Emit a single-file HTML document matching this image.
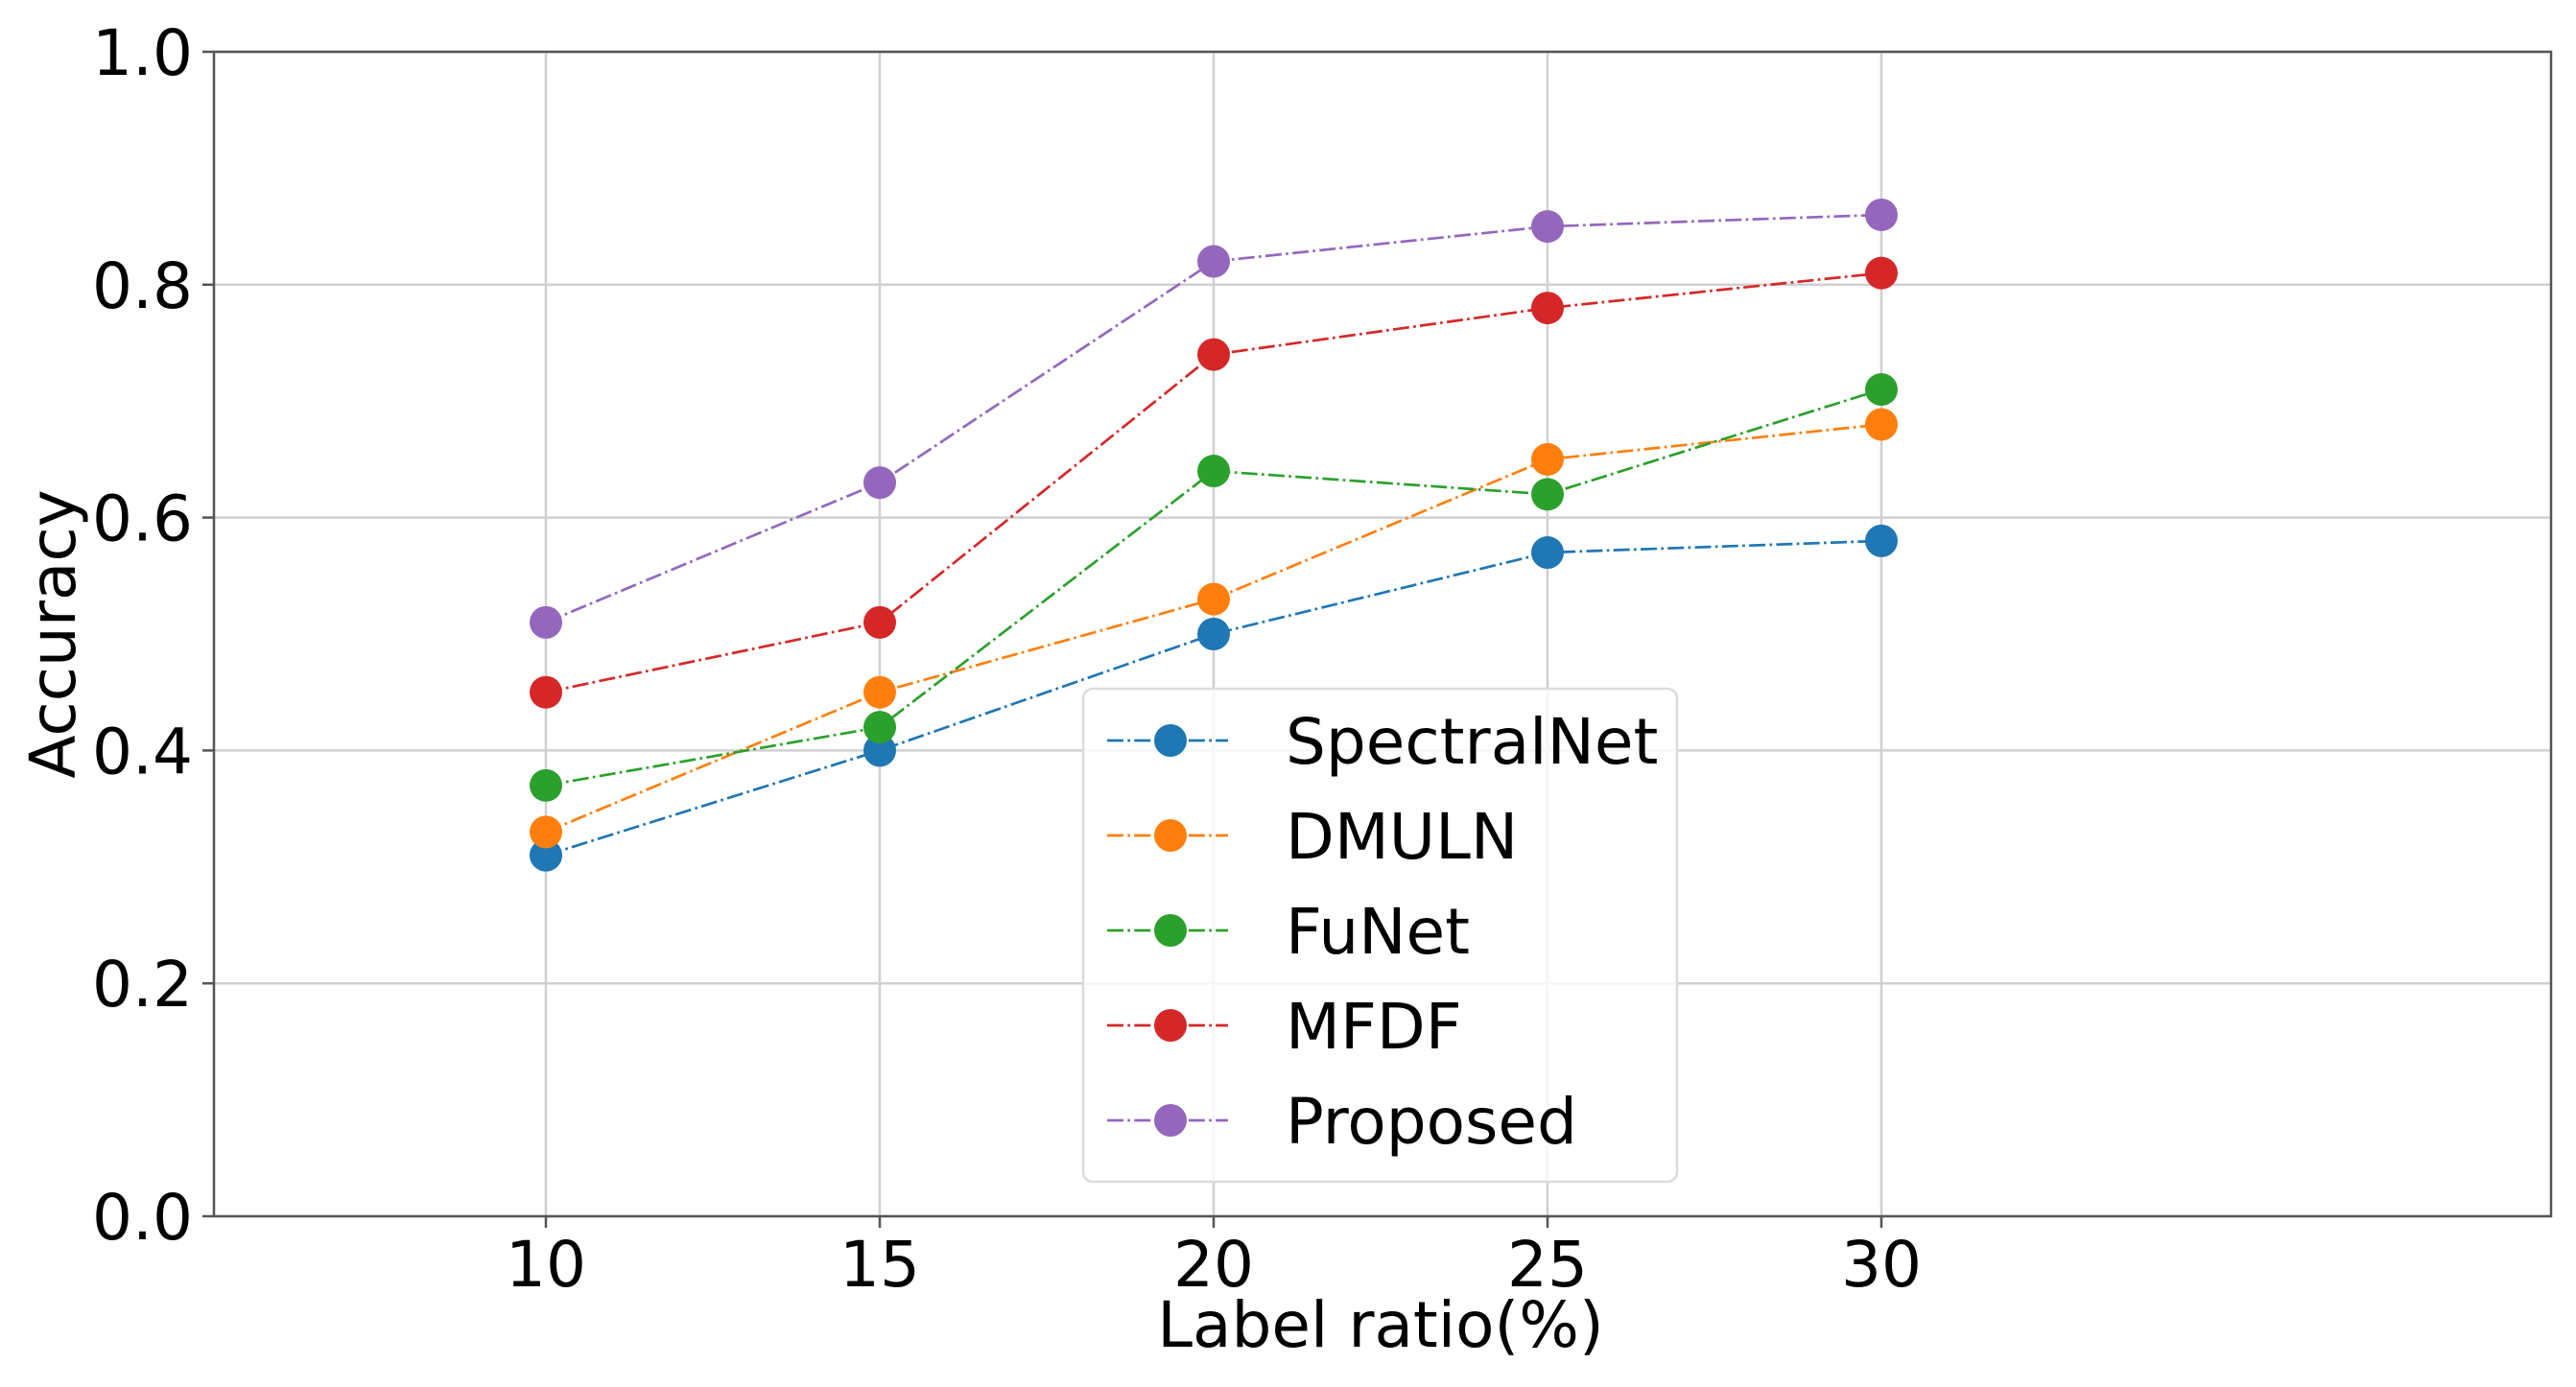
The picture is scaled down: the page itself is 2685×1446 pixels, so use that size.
<!DOCTYPE html>
<html><head><meta charset="utf-8"><style>
html,body{margin:0;padding:0;background:#fff}
svg text{font-family:"DejaVu Sans","Liberation Sans",sans-serif;fill:#000}
</style></head><body>
<svg id="chart" width="2685" height="1441" xmlns="http://www.w3.org/2000/svg">
<g id="grid"></g>
<g id="series"></g>
<rect x="223" y="54" width="2436" height="1214" fill="none" stroke="#555" stroke-width="2.5"/>
<g id="ticks"></g>
<text x="1439" y="1404" font-size="66" text-anchor="middle">Label ratio(%)</text>
<text x="0" y="0" font-size="66" text-anchor="middle" transform="translate(78,661) rotate(-90)">Accuracy</text>
<g id="legend"></g>
</svg>
<script>
const categories=[10,15,20,25,30];
const xTicks=[10,15,20,25,30];
const yTicks=[0.0,0.2,0.4,0.6,0.8,1.0];
const seriesNames=["SpectralNet","DMULN","FuNet","MFDF","Proposed"];
const seriesColors=["#1f77b4","#ff7f0e","#2ca02c","#d62728","#9467bd"];
const spectralNet=[0.31,0.40,0.50,0.57,0.58];
const dmuln=[0.33,0.45,0.53,0.65,0.68];
const funet=[0.37,0.42,0.64,0.62,0.71];
const mfdf=[0.45,0.51,0.74,0.78,0.81];
const proposed=[0.51,0.63,0.82,0.85,0.86];
const seriesValues=[spectralNet,dmuln,funet,mfdf,proposed];

const NS="http://www.w3.org/2000/svg";
const L=223,R=2659,T=54,B=1268;
function xs(v){return 569+(v-10)*(1961-569)/20;}
function ys(v){return B-(v-0)*(B-T)/1.0;}
function mk(tag,attrs,parent){const e=document.createElementNS(NS,tag);for(const k in attrs)e.setAttribute(k,attrs[k]);parent.appendChild(e);return e;}
const grid=document.getElementById('grid'),ticks=document.getElementById('ticks');
xTicks.forEach(v=>{
  const g=mk('line',{x1:xs(v),x2:xs(v),y1:T,y2:B,stroke:'#d0d0d0','stroke-width':2.5},grid);
  
  
  const t=mk('line',{x1:xs(v),x2:xs(v),y1:B,y2:B+12,stroke:'#555','stroke-width':2.5},ticks);
  
  
  const tx=mk('text',{x:xs(v),y:B+73,'font-size':66,'text-anchor':'middle'},ticks);
  tx.textContent=v;
  
  
});
yTicks.forEach(v=>{
  const g=mk('line',{x1:L,x2:R,y1:ys(v),y2:ys(v),stroke:'#d0d0d0','stroke-width':2.5},grid);
  
  
  const t=mk('line',{x1:L-12,x2:L,y1:ys(v),y2:ys(v),stroke:'#555','stroke-width':2.5},ticks);
  
  
  const tx=mk('text',{x:L-22,y:ys(v)+24,'font-size':66,'text-anchor':'end'},ticks);
  tx.textContent=v.toFixed(1);
  
  
});
const ser=document.getElementById('series');
const dash="17 4.3 2.7 4.3";
seriesValues.forEach((vals,i)=>{
  const g=mk('g',{},ser);
  
  
  const pts=vals.map((v,j)=>xs(categories[j])+','+ys(v)).join(' ');
  const pl=mk('polyline',{points:pts,fill:'none',stroke:seriesColors[i],'stroke-width':2.7,'stroke-dasharray':dash},g);
  
  
  vals.forEach((v,j)=>{
    const c=mk('circle',{cx:xs(categories[j]),cy:ys(v),r:17,fill:seriesColors[i]},g);
    
    
  });
});
const lg=document.getElementById('legend');
const box=mk('rect',{x:1129,y:718,width:619,height:514,rx:10,fill:'rgba(255,255,255,0.8)',stroke:'#dcdcdc','stroke-width':2.5},lg);


seriesNames.forEach((n,i)=>{
  const y=772+i*99;
  const g=mk('g',{},lg);
  
  
  mk('line',{x1:1154,x2:1280,y1:y,y2:y,stroke:seriesColors[i],'stroke-width':2.7,'stroke-dasharray':dash},g);
  mk('circle',{cx:1220,cy:y,r:17,fill:seriesColors[i]},g);
  const t=mk('text',{x:1340,y:y+24,'font-size':66},g);
  t.textContent=n;
});
</script>
</body></html>
